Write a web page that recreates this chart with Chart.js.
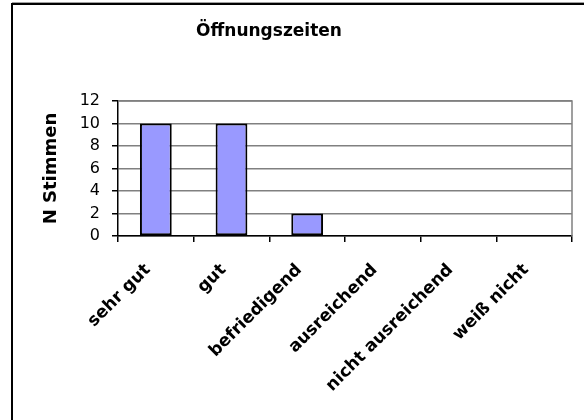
<!DOCTYPE html>
<html lang="de">
<head>
<meta charset="utf-8">
<title>Öffnungszeiten</title>
<script src="https://cdn.jsdelivr.net/npm/chart.js@4/dist/chart.umd.min.js"></script>
<style>
	html, body { margin: 0; padding: 0; background: #fff; overflow: hidden; }
	#chart { display: block; }
</style>
</head>
<body>
<canvas id="chart" width="584" height="420"></canvas>
<script>
// data
const categories = ['sehr gut', 'gut', 'befriedigend', 'ausreichend', 'nicht ausreichend', 'weiß nicht'];
const votes = [10, 10, 2, 0, 0, 0];
const yMin = 0;
const yMax = 12;
const yStep = 2;
const chartTitle = 'Öffnungszeiten';
const yTitle = 'N Stimmen';

const FONT = '"DejaVu Sans", "Liberation Sans", Arial, sans-serif';

// Excel look: outer frame (left + top only), gray top/right edge of the plot area, title
const excelFrame = {
	id: 'excelFrame',
	beforeDraw(chart) {
		const ctx = chart.ctx;
		ctx.save();
		ctx.fillStyle = '#fff';
		ctx.fillRect(0, 0, chart.width, chart.height);
		ctx.strokeStyle = '#a0a0a0';
		ctx.lineWidth = 1;
		ctx.beginPath();
		ctx.moveTo(12, 2.5);
		ctx.lineTo(chart.width, 2.5);
		ctx.stroke();
		ctx.strokeStyle = '#000';
		ctx.lineWidth = 2;
		ctx.beginPath();
		ctx.moveTo(12, chart.height);
		ctx.lineTo(12, 4);
		ctx.lineTo(chart.width, 4);
		ctx.stroke();
		ctx.restore();
	},
	beforeDatasetsDraw(chart) {
		const { ctx, chartArea: a } = chart;
		ctx.save();
		ctx.strokeStyle = '#808080';
		ctx.lineWidth = 1.5;
		ctx.beginPath();
		ctx.moveTo(a.left, a.top);
		ctx.lineTo(a.right, a.top);
		ctx.lineTo(a.right, a.bottom);
		ctx.stroke();
		ctx.restore();
	},
	afterDraw(chart) {
		const ctx = chart.ctx;
		ctx.save();
		ctx.font = 'bold 17px ' + FONT;
		ctx.fillStyle = '#000';
		ctx.textAlign = 'center';
		ctx.textBaseline = 'middle';
		ctx.fillText(chartTitle, chart.width / 2 - 23, 32);
		ctx.restore();
	}
};

new Chart(document.getElementById('chart'), {
	type: 'bar',
	data: {
		labels: categories,
		datasets: [{
			data: votes,
			backgroundColor: '#9999ff',
			borderColor: '#000',
			borderWidth: 2,
			borderSkipped: false,
			barPercentage: 0.42,
			categoryPercentage: 1
		}]
	},
	options: {
		responsive: false,
		animation: false,
		layout: { padding: { top: 101, right: 12, left: 0, bottom: 0 } },
		plugins: {
			legend: { display: false },
			tooltip: { enabled: false },
			title: { display: false }
		},
		scales: {
			x: {
				offset: true,
				grid: { drawOnChartArea: false, tickLength: 6, tickColor: '#000', lineWidth: 1.5, offset: true },
				border: { color: '#000', width: 1.5 },
				ticks: {
					autoSkip: false,
					minRotation: 45,
					maxRotation: 45,
					padding: 18,
					labelOffset: -8,
					color: '#000',
					font: { family: FONT, size: 17, weight: 'bold' }
				},
				afterFit(scale) {
					scale.height = 184;
					scale.paddingLeft = 0;
					scale.paddingRight = 0;
				}
			},
			y: {
				min: yMin,
				max: yMax,
				ticks: {
					stepSize: yStep,
					autoSkip: false,
					padding: 12,
					color: '#000',
					font: { family: FONT, size: 16 }
				},
				grid: { color: '#808080', lineWidth: 1.5, tickLength: 6, tickColor: '#000' },
				border: { color: '#000', width: 1.5 },
				title: {
					display: true,
					text: yTitle,
					color: '#000',
					font: { family: FONT, size: 18, weight: 'bold' },
					padding: { top: 41, bottom: 0 }
				},
				afterFit(scale) {
					scale.width = 118;
				}
			}
		}
	},
	plugins: [excelFrame]
});
</script>
</body>
</html>
